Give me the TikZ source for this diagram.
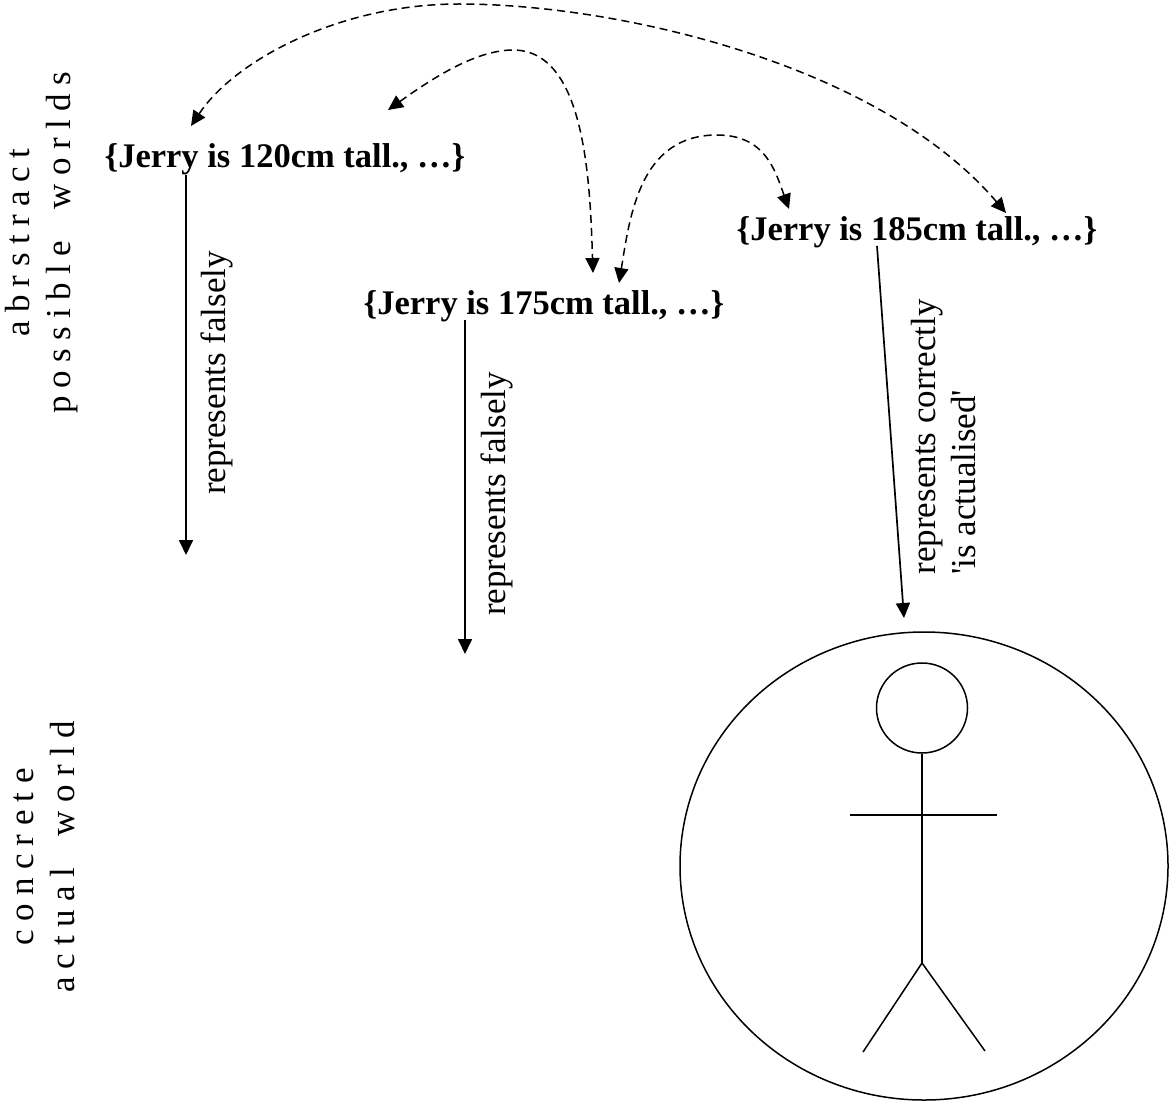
\documentclass[tikz,border=0pt]{standalone}
\usepackage{fontspec}
\setmainfont{Liberation Serif}
\usetikzlibrary{arrows.meta,shapes.geometric}
\tikzset{
  world/.style={font=\fontsize{34.5}{38}\selectfont\bfseries,inner sep=0pt},
  side/.style={font=\fontsize{35}{41}\selectfont,rotate=90,align=center,inner sep=0pt},
  rep/.style={font=\fontsize{35}{40}\selectfont,rotate=90,align=left,inner sep=0pt},
  link/.style={line width=1.7pt,-{Triangle[length=15pt,width=14pt]}},
  access/.style={line width=1.5pt,dash pattern=on 8pt off 5pt,{Triangle[length=15pt,width=14pt]}-{Triangle[length=15pt,width=14pt]}},
  body/.style={line width=1.5pt}
}
\newcommand{\spaced}[1]{\addfontfeature{LetterSpace=24}#1}
\begin{document}
\begin{tikzpicture}
\useasboundingbox (0pt,0pt) rectangle (1169pt,-1102pt);
\node[world] (w120) at (285pt,-159.5pt){\{Jerry is 120cm tall., …\}};
\node[world] (w175) at (544pt,-306.5pt){\{Jerry is 175cm tall., …\}};
\node[world] (w185) at (917pt,-232.5pt){\{Jerry is 185cm tall., …\}};
\node[side] (abstract) at (42pt,-243pt){\spaced{abrstract}\\\spaced{possible\hspace{14pt} worlds}};
\node[side] (concrete) at (44pt,-857pt){\spaced{concrete}\\\spaced{actual\hspace{14pt} world}};
\coordinate (a1) at (186pt,-175pt);
\coordinate (a2) at (186pt,-555pt);
\coordinate (b1) at (465pt,-320pt);
\coordinate (b2) at (465pt,-654pt);
\coordinate (c1) at (877pt,-246pt);
\coordinate (c2) at (904pt,-618pt);
\draw[link] (a1) -- (a2);
\draw[link] (b1) -- (b2);
\draw[link] (c1) -- (c2);
\node[rep] (fa) at (217pt,-373pt){represents falsely};
\node[rep] (fb) at (497pt,-494pt){represents falsely};
\node[rep] (fc) at (944pt,-437pt){represents correctly\\\textquotesingle is actualised\textquotesingle};
\coordinate (t120) at (191pt,-126pt);
\coordinate (top) at (459pt,-4pt);
\coordinate (t185) at (1006pt,-213pt);
\coordinate (m120) at (388pt,-110pt);
\coordinate (mtop) at (513pt,-50pt);
\coordinate (m175) at (593pt,-273pt);
\coordinate (n175) at (619pt,-283pt);
\coordinate (ntop) at (717pt,-135pt);
\coordinate (n185) at (789pt,-209pt);
\draw[access] (t120) .. controls (235pt,-60pt) and (340pt,-4pt) .. (top) .. controls (620pt,-4pt) and (880pt,-65pt) .. (t185);
\draw[access] (m120) .. controls (430pt,-80pt) and (475pt,-50pt) .. (mtop) .. controls (585pt,-50pt) and (590pt,-180pt) .. (m175);
\draw[access] (n175) .. controls (630pt,-215pt) and (640pt,-135pt) .. (ntop) .. controls (765pt,-135pt) and (775pt,-170pt) .. (n185);
\node[ellipse,draw,line width=1.5pt,minimum width=488pt,minimum height=468pt,inner sep=0pt] (world) at (924pt,-866pt){};
\node[ellipse,draw,line width=1.5pt,minimum width=91pt,minimum height=90pt,inner sep=0pt] (head) at (922pt,-708pt){};
\coordinate (hip) at (922pt,-963pt);
\coordinate (armL) at (850pt,-815pt);
\coordinate (armR) at (997pt,-815pt);
\coordinate (footL) at (863pt,-1052pt);
\coordinate (footR) at (985pt,-1051pt);
\draw[body] (head.south) -- (hip);
\draw[body] (armL) -- (armR);
\draw[body] (footL) -- (hip) -- (footR);
\end{tikzpicture}
\end{document}
